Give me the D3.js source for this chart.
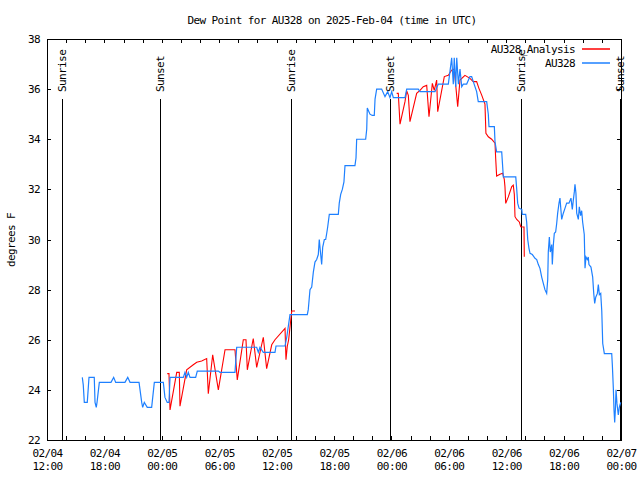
<!DOCTYPE html>
<html>
<head>
<meta charset="utf-8">
<script src="https://cdn.jsdelivr.net/npm/d3@7"></script>
<style>
  html, body { margin: 0; padding: 0; background: #fff; }
  svg { display: block; }
  text { font-family: "DejaVu Sans Mono", monospace; font-size: 11px; letter-spacing: -0.6px; fill: #000; }
</style>
</head>
<body>
<svg id="chart" width="640" height="480"></svg>
<script>
// ---- Data (hours since 2025-02-04 12:00 UTC, dew point in °F) ----
const baseTime = Date.UTC(2025, 1, 4, 12, 0);

const obsHours = [3.69,3.79,3.90,4.21,4.39,4.94,5.02,5.15,5.23,5.47,6.69,6.97,7.18,8.15,8.44,8.68,9.62,9.90,10.00,10.17,10.48,10.94,11.22,12.16,12.33,12.57,12.75,12.86,14.25,14.42,14.60,14.77,14.95,15.54,15.71,17.91,18.08,19.65,19.83,21.92,22.09,22.26,22.61,23.83,23.94,24.88,25.06,25.40,27.21,27.31,27.49,27.67,27.84,28.01,28.19,28.36,28.46,28.61,28.71,28.82,28.99,29.13,29.24,29.34,29.51,30.45,30.55,30.70,30.87,31.04,31.15,32.19,32.30,32.37,33.31,33.42,33.48,33.76,34.00,34.21,34.29,34.46,34.98,35.33,35.61,35.85,36.03,36.20,37.42,37.60,38.81,38.99,40.56,40.90,41.95,42.12,42.30,42.47,42.57,42.72,42.83,43.00,43.17,43.35,43.52,43.87,44.21,44.39,44.56,44.91,45.08,45.96,46.13,46.20,46.76,46.83,47.00,47.53,47.70,49.00,49.10,49.20,49.34,49.63,49.68,50.04,50.14,50.25,50.38,50.49,50.73,50.83,51.01,51.19,51.36,51.53,51.71,51.88,52.05,52.23,52.34,52.40,52.51,52.61,52.76,52.82,52.93,53.03,53.17,53.28,53.38,53.52,53.62,53.80,53.97,54.15,54.32,54.56,54.77,54.91,55.01,55.12,55.19,55.29,55.37,55.54,55.64,55.78,55.89,55.99,56.16,56.24,56.34,56.48,56.58,56.65,56.86,57.04,57.15,57.25,57.36,57.53,57.63,57.74,57.88,57.99,58.09,58.26,59.03,59.10,59.20,59.27,59.34,59.41,59.48,59.58,59.72,59.82,59.97];
const obsDew = [24.5,24.2,23.5,23.5,24.5,24.5,23.5,23.3,23.5,24.3,24.3,24.5,24.3,24.3,24.5,24.3,24.3,23.5,23.3,23.5,23.3,23.3,24.3,24.3,23.7,23.5,23.5,24.5,24.5,24.7,24.5,24.7,24.5,24.5,24.75,24.75,24.7,24.7,25.7,25.7,25.5,25.7,25.5,25.5,25.75,25.75,26.1,27.0,27.0,27.2,28.0,28.1,28.7,29.1,29.2,29.4,30.0,29.4,29.0,29.7,30.0,30.0,30.25,30.5,31.0,31.0,31.45,31.8,32.0,32.3,32.95,32.95,33.25,34.0,34.0,34.4,35.25,35.0,34.95,34.95,35.6,36.0,36.0,35.7,35.9,35.66,35.9,35.66,35.66,36.0,36.0,35.9,35.9,36.2,36.2,36.7,37.25,36.2,37.25,36.1,37.25,36.2,36.8,36.1,36.2,36.2,36.5,36.5,36.3,35.9,35.5,35.5,35.0,34.5,34.5,33.9,33.5,33.5,32.5,32.5,32.0,31.45,31.25,31.2,31.0,31.0,30.7,30.0,29.65,29.45,29.4,29.35,29.25,29.2,29.0,28.85,28.5,28.25,28.0,27.85,28.4,29.5,30.1,29.5,29.8,29.0,29.8,30.25,30.3,30.65,31.05,31.45,31.65,30.8,31.05,31.25,31.45,31.45,31.65,31.2,31.55,31.9,32.2,31.85,31.05,30.8,31.3,30.95,31.15,30.7,30.2,28.85,29.3,29.2,29.3,29.0,28.9,28.5,27.85,27.45,27.7,27.85,28.2,27.8,27.85,27.15,25.85,25.45,25.45,24.95,24.05,23.2,22.7,23.2,24.0,23.45,23.0,23.3,23.5];

// Analysis series: two separate runs
const anaHours1 = [12.57,12.75,12.86,13.56,13.83,13.90,14.60,15.29,15.65,16.17,16.69,16.86,17.32,17.91,18.61,19.65,19.89,20.52,20.80,20.94,21.56,21.92,22.61,22.96,23.49,23.83,24.88,24.98,25.12,25.26,25.58,25.92];
const anaDew1 = [24.65,24.65,23.2,24.7,24.7,23.35,24.8,25.0,25.1,25.15,25.25,23.85,25.4,24.0,25.6,25.6,24.4,26.0,26.0,24.8,26.05,24.9,26.1,24.85,25.8,26.0,26.45,25.2,25.75,26.0,27.15,27.15];
const anaHours2 = [36.55,36.72,36.90,37.42,37.60,37.77,37.94,38.64,38.99,39.33,39.69,39.93,40.28,40.48,40.73,40.84,41.53,41.95,42.30,42.57,42.93,43.17,43.69,44.21,44.56,44.91,45.15,45.43,45.78,45.88,46.13,46.48,46.83,46.90,47.00,47.35,47.63,47.80,47.87,47.95,48.22,48.58,48.74,48.85,48.92,49.10,49.37,49.52,49.86,49.89];
const anaDew2 = [35.83,35.83,34.6,35.5,35.93,35.75,34.7,35.83,35.95,36.1,36.15,34.9,36.23,35.95,36.36,35.1,36.5,36.55,36.76,36.8,35.3,36.36,36.55,36.43,36.3,36.3,36.03,35.77,35.4,34.24,34.1,34.0,33.84,33.24,32.53,32.6,32.64,32.4,32.11,31.44,31.7,32.11,32.17,31.8,30.91,30.8,30.7,30.51,30.5,29.31];

// Sun events (hours since base)
const sunLabels = ["Sunrise","Sunset","Sunrise","Sunset","Sunrise","Sunset"];
const sunHours = [1.52, 11.85, 25.53, 35.88, 49.58, 59.92];

const yTicks = [22,24,26,28,30,32,34,36,38];
const seriesNames = ["AU328_Analysis", "AU328"];
const seriesColors = ["#ff0000", "#1e80ff"];
const titleText = "Dew Point for AU328 on 2025-Feb-04 (time in UTC)";
const yLabelText = "degrees F";

// ---- Chart ----
const svg = d3.select("#chart");
const L = 47, R = 621, T = 39, B = 440;
const toDate = h => new Date(baseTime + h * 3600e3);

const x = d3.scaleUtc().domain([toDate(0), toDate(60)]).range([L, R]);
const y = d3.scaleLinear().domain([22, 38]).range([B, T]);

// title
svg.append("text").attr("x", 332).attr("y", 24).attr("text-anchor", "middle").text(titleText);
// y label
svg.append("text").attr("transform", "translate(15,240) rotate(-90)")
  .attr("text-anchor", "middle").text(yLabelText);

// sun lines and labels
const sunG = svg.append("g");
sunHours.forEach((h, i) => {
  const sx = Math.round(x(toDate(h))) + 0.5;
  sunG.append("line").attr("x1", sx).attr("x2", sx).attr("y1", 99).attr("y2", B)
    .attr("stroke", "#000").attr("stroke-width", 1).attr("shape-rendering", "crispEdges");
  sunG.append("text").attr("transform", `translate(${sx},92) rotate(-90)`)
    .attr("text-anchor", "start").attr("dy", "0.35em").text(sunLabels[i]);
});

// axes
const majorTicks = d3.range(0, 61, 6).map(toDate);
const minorTicks = d3.range(0, 61, 2).map(toDate);

const styleAxis = g => {
  g.select(".domain").remove();
  g.selectAll(".tick line").attr("stroke", "#000").attr("shape-rendering", "crispEdges");
  g.selectAll("text").attr("font-family", null).attr("font-size", null);
};

svg.append("g").attr("transform", `translate(0,${B})`)
  .call(d3.axisBottom(x).tickValues(minorTicks).tickSize(-4).tickFormat(""))
  .call(styleAxis);
svg.append("g").attr("transform", `translate(0,${T})`)
  .call(d3.axisTop(x).tickValues(minorTicks).tickSize(-4).tickFormat(""))
  .call(styleAxis);

const fmtD = d3.utcFormat("%m/%d"), fmtT = d3.utcFormat("%H:%M");
const xLab = svg.append("g").attr("transform", `translate(0,${B})`)
  .call(d3.axisBottom(x).tickValues(majorTicks).tickSize(0).tickPadding(0).tickFormat(""))
  .call(styleAxis);
xLab.selectAll(".tick").each(function(d) {
  const t = d3.select(this).select("text").attr("y", 0).attr("dy", null);
  t.append("tspan").attr("x", 0).attr("y", 17).text(fmtD(d));
  t.append("tspan").attr("x", 0).attr("y", 30).text(fmtT(d));
});

svg.append("g").attr("transform", `translate(${L},0)`)
  .call(d3.axisLeft(y).tickValues(yTicks).tickSize(-4).tickPadding(7).tickFormat(d3.format("d")))
  .call(styleAxis);
svg.append("g").attr("transform", `translate(${R},0)`)
  .call(d3.axisRight(y).tickValues(yTicks).tickSize(-4).tickFormat(""))
  .call(styleAxis);

// border
svg.append("rect").attr("x", L + 0.5).attr("y", T + 0.5).attr("width", R - L).attr("height", B - T)
  .attr("fill", "none").attr("stroke", "#000").attr("shape-rendering", "crispEdges");

// lines
const line = d3.line().x(d => x(toDate(d[0]))).y(d => y(d[1]));
const zip = (a, b) => a.map((v, i) => [v, b[i]]);
[zip(anaHours1, anaDew1), zip(anaHours2, anaDew2)].forEach(seg => {
  svg.append("path").datum(seg).attr("d", line).attr("fill", "none")
    .attr("stroke", seriesColors[0]).attr("stroke-width", 1.1);
});
svg.append("path").datum(zip(obsHours, obsDew)).attr("d", line).attr("fill", "none")
  .attr("stroke", seriesColors[1]).attr("stroke-width", 1.2);

// legend
seriesNames.forEach((n, i) => {
  const ly = 49 + i * 14;
  svg.append("text").attr("x", 575).attr("y", ly).attr("dy", "0.35em").attr("text-anchor", "end").text(n);
  svg.append("line").attr("x1", 582).attr("x2", 610).attr("y1", ly).attr("y2", ly)
    .style("stroke", seriesColors[i]).style("stroke-width", "1.5px");
});
</script>
</body>
</html>
